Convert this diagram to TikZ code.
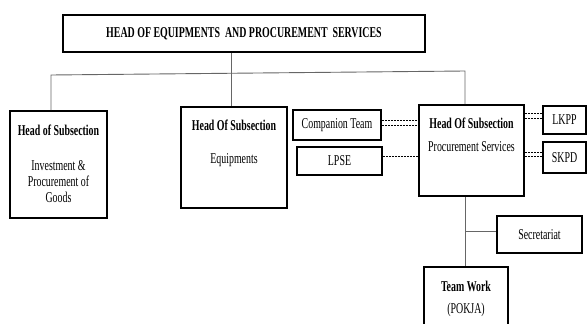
\documentclass[tikz,border=0pt]{standalone}
\usepackage{fontspec}
\newfontfamily\orgfont{Liberation Serif}[FakeStretch=0.66]
\usetikzlibrary{positioning}
\tikzset{
  unitbox/.style={rectangle, draw=black, line width=1.6pt, inner sep=0pt, align=center, font=\orgfont\fontsize{15}{16}\selectfont},
  boxtext/.style={draw=none, inner sep=0pt, anchor=base, align=center, font=\orgfont\fontsize{15}{16}\selectfont},
  link/.style={draw=black!60, line width=0.9pt},
  coord/.style={draw=black, line width=0.6pt, dash pattern=on 2pt off 1pt},
}

\begin{document}
\begin{tikzpicture}[x=1pt, y=-1pt]
\useasboundingbox (0,0) rectangle (587,324);
\clip (0,0) rectangle (587,324);
% boxes
\node [unitbox, minimum width=362pt, minimum height=37pt] (head) at (244,33.5) {\bfseries HEAD OF EQUIPMENTS\ \ AND PROCUREMENT\ \ SERVICES};
\node [unitbox, minimum width=97pt, minimum height=107pt] (invest) at (58.5,164.5) {};
\node [unitbox, minimum width=106pt, minimum height=101pt] (equip) at (234,157.5) {};
\node [unitbox, minimum width=105pt, minimum height=91pt] (proc) at (471.5,150.5) {};
\node [unitbox, minimum width=88pt, minimum height=30pt] (comp) at (337,125) {Companion Team};
\node [unitbox, minimum width=85pt, minimum height=28pt] (lpse) at (339.5,161) {LPSE};
\node [unitbox, minimum width=43pt, minimum height=28pt] (lkpp) at (564.5,120) {LKPP};
\node [unitbox, minimum width=43pt, minimum height=31pt] (skpd) at (564.5,157.5) {SKPD};
\node [unitbox, minimum width=85pt, minimum height=37pt] (sec) at (539.5,234.5) {Secretariat};
\node [unitbox, minimum width=84pt, minimum height=70pt] (team) at (466,302) {};
% box texts
\node [boxtext] (investhd) at (58.5,135) {\bfseries Head of Subsection};
\node [boxtext] (investtx) at (58.5,202) {Investment \&\\Procurement of\\Goods};
\node [boxtext] (equiphd) at (234,130) {\bfseries Head Of Subsection};
\node [boxtext] (equiptx) at (234,163) {Equipments};
\node [boxtext] (prochd) at (471.5,128) {\bfseries Head Of Subsection};
\node [boxtext] (proctx) at (471.5,151) {Procurement Services};
\node [boxtext] (teamhd) at (466,291) {\bfseries Team Work};
\node [boxtext] (teamtx) at (466,313) {(POKJA)};
% tree
\coordinate (drop) at (231,73);
\coordinate (busL) at (51,75);
\coordinate (busR) at (465,71);
\coordinate (secj) at (465,231);
\draw [link] (head.south -| drop) -- (equip.north -| drop);
\draw [link] (invest.north -| busL) -- (busL) -- (busR) -- (proc.north -| busR);
\draw [link] (proc.south -| busR) -- (team.north -| busR);
\draw [link] (secj) -- (secj -| sec.west);
% coordination
\draw [coord] ([yshift=5pt]comp.east) -- ([yshift=5pt]comp.east -| proc.west);
\draw [coord] ([yshift=0pt]comp.east) -- ([yshift=0pt]comp.east -| proc.west);
\draw [coord] ([yshift=5pt]lpse.east) -- ([yshift=5pt]lpse.east -| proc.west);
\draw [coord] ([yshift=7pt]lkpp.west) -- ([yshift=7pt]lkpp.west -| proc.east);
\draw [coord] ([yshift=2pt]lkpp.west) -- ([yshift=2pt]lkpp.west -| proc.east);
\draw [coord] ([yshift=5.5pt]skpd.west) -- ([yshift=5.5pt]skpd.west -| proc.east);
\draw [coord] ([yshift=1.5pt]skpd.west) -- ([yshift=1.5pt]skpd.west -| proc.east);
\end{tikzpicture}
\end{document}
